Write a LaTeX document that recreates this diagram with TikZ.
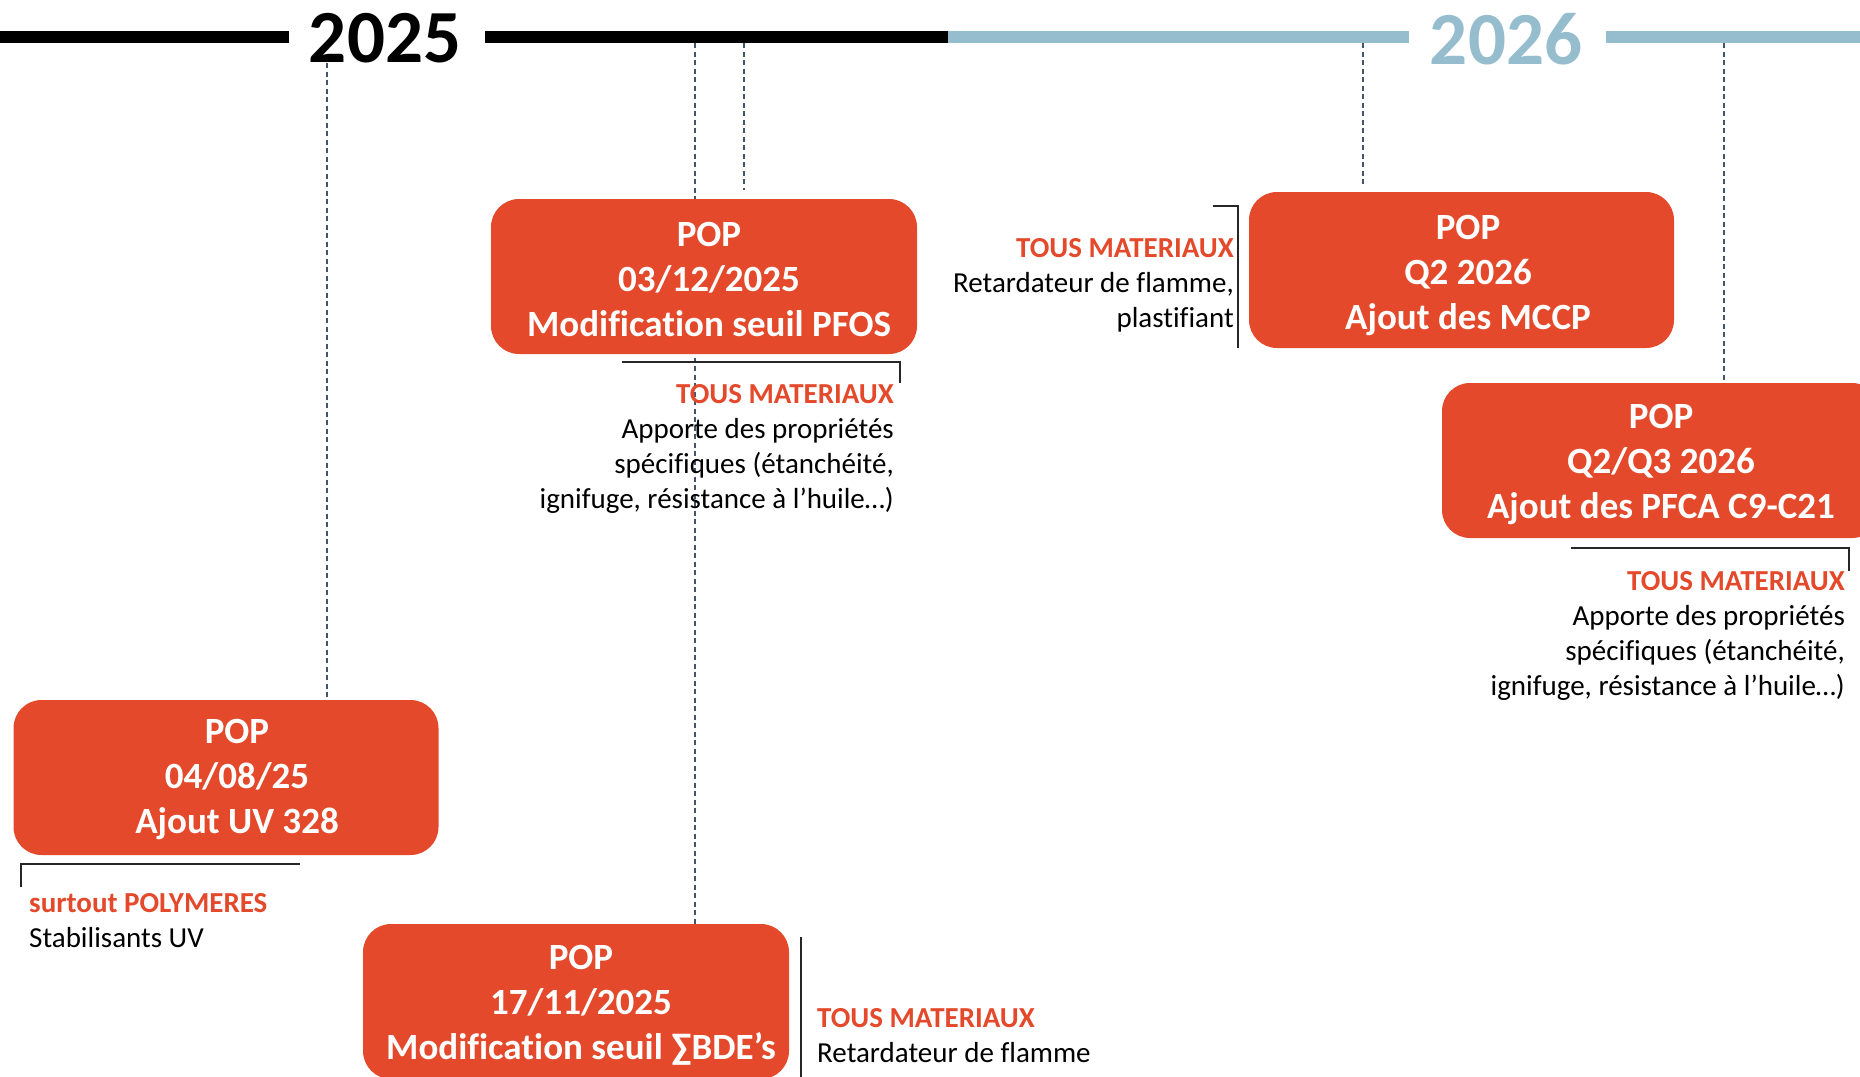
\documentclass[tikz,border=0pt]{standalone}
\usepackage{fontspec}
\setmainfont{Carlito}[Ligatures={NoCommon}]
\usetikzlibrary{backgrounds}
\definecolor{popred}{HTML}{E3492A}
\definecolor{tlblue}{HTML}{95BDCE}
\definecolor{dashc}{HTML}{44546A}
\begin{document}
\begin{tikzpicture}[x=1pt,y=-1pt,
  popbox/.style={draw=none, fill=popred, rounded corners=28pt, inner sep=0, minimum width=425pt, minimum height=155pt},
  poptext/.style={text=white, font=\bfseries\fontsize{37}{45}\selectfont, align=center, inner sep=0, anchor=north},
  guide/.style={dashc, line width=1.2pt, dash pattern=on 5pt off 3.5pt},
  bracket/.style={black!85, line width=1.6pt},
  notetext/.style={font=\fontsize{29}{35.3}\selectfont, inner sep=0},
  tl/.style={line width=12pt},
  year/.style={font=\bfseries\fontsize{75}{75}\selectfont, inner sep=0}
]
\useasboundingbox (0,0) rectangle (1860,1076);

% timeline
\coordinate (tlA) at (0,37);
\coordinate (tlB) at (289,37);
\node[year] (y25) at (385,38) {2025};
\coordinate (tlC) at (485,37);
\coordinate (tlD) at (948,37);
\coordinate (tlE) at (1409,37);
\node[year, text=tlblue] (y26) at (1506,39) {2026};
\coordinate (tlF) at (1606,37);
\coordinate (tlG) at (1860,37);
\draw[tl, black] (tlA) -- (tlB);
\draw[tl, black] (tlC) -- (tlD);
\draw[tl, tlblue] (tlD) -- (tlE);
\draw[tl, tlblue] (tlF) -- (tlG);

% boxes
\node[popbox] (uvbox) at (226,777.5) {};
\node[poptext] (uvtext) at (237,719.3) {POP\\04/08/25\\Ajout UV 328};

\node[popbox, minimum width=426pt] (pfosbox) at (704,276.5) {};
\node[poptext] (pfostext) at (709,222.3) {POP\\03/12/2025\\Modification seuil PFOS};

\node[popbox, minimum width=426pt] (bdebox) at (576,1001.5) {};
\node[poptext] (bdetext) at (581,945.3) {POP\\17/11/2025\\Modification seuil ∑BDE’s};

\node[popbox, minimum height=156pt] (mccpbox) at (1461.5,270) {};
\node[poptext] (mccptext) at (1468,215.3) {POP\\Q2 2026\\Ajout des MCCP};

\node[popbox, minimum width=438pt] (pfcabox) at (1661,460.5) {};
\node[poptext] (pfcatext) at (1661,404.3) {POP\\Q2/Q3 2026\\Ajout des PFCA C9-C21};

% guides
\begin{scope}[on background layer]
\coordinate (g1) at (327,63);
\coordinate (g2) at (695,43);
\coordinate (g3) at (744,43);
\coordinate (g3e) at (744,190);
\coordinate (g4) at (1363,43);
\coordinate (g4e) at (1363,184);
\coordinate (g5) at (1724,43);
\draw[guide] (g1) -- (g1 |- uvbox.north);
\draw[guide] (g2) -- (g2 |- bdebox.north);
\draw[guide] (g3) -- (g3e);
\draw[guide] (g4) -- (g4e);
\draw[guide] (g5) -- (g5 |- pfcabox.north);
\end{scope}

% annotations
\coordinate (b1a) at (622,362);
\coordinate (b1b) at (900,362);
\coordinate (b1c) at (900,383);
\draw[bracket] (b1a) -- (b1b) -- (b1c);
\node[notetext, align=right, anchor=north east] (npfos) at (894,383.8)
  {\textcolor{popred}{\bfseries TOUS MATERIAUX}\\Apporte des propriétés\\spécifiques (étanchéité,\\ignifuge, résistance à l’huile…)};

\coordinate (b2a) at (1213,206);
\coordinate (b2b) at (1238,206);
\coordinate (b2c) at (1238,348);
\draw[bracket] (b2a) -- (b2b) -- (b2c);
\node[notetext, align=right, anchor=north east] (nmccp) at (1234,237.8)
  {\textcolor{popred}{\bfseries TOUS MATERIAUX}\\Retardateur de flamme,\\plastifiant};

\coordinate (b3a) at (1571,548);
\coordinate (b3b) at (1849,548);
\coordinate (b3c) at (1849,571);
\draw[bracket] (b3a) -- (b3b) -- (b3c);
\node[notetext, align=right, anchor=north east] (npfca) at (1845,570.8)
  {\textcolor{popred}{\bfseries TOUS MATERIAUX}\\Apporte des propriétés\\spécifiques (étanchéité,\\ignifuge, résistance à l’huile…)};

\coordinate (b4a) at (21,887);
\coordinate (b4b) at (21,864);
\coordinate (b4c) at (300,864);
\draw[bracket] (b4a) -- (b4b) -- (b4c);
\node[notetext, align=left, anchor=north west] (nuv) at (29,892.8)
  {\textcolor{popred}{\bfseries surtout POLYMERES}\\Stabilisants UV};

\coordinate (b5a) at (801,937);
\coordinate (b5b) at (801,1080);
\draw[bracket] (b5a) -- (b5b);
\node[notetext, align=left, anchor=north west] (nbde) at (817,1007.8)
  {\textcolor{popred}{\bfseries TOUS MATERIAUX}\\Retardateur de flamme};
\end{tikzpicture}
\end{document}
